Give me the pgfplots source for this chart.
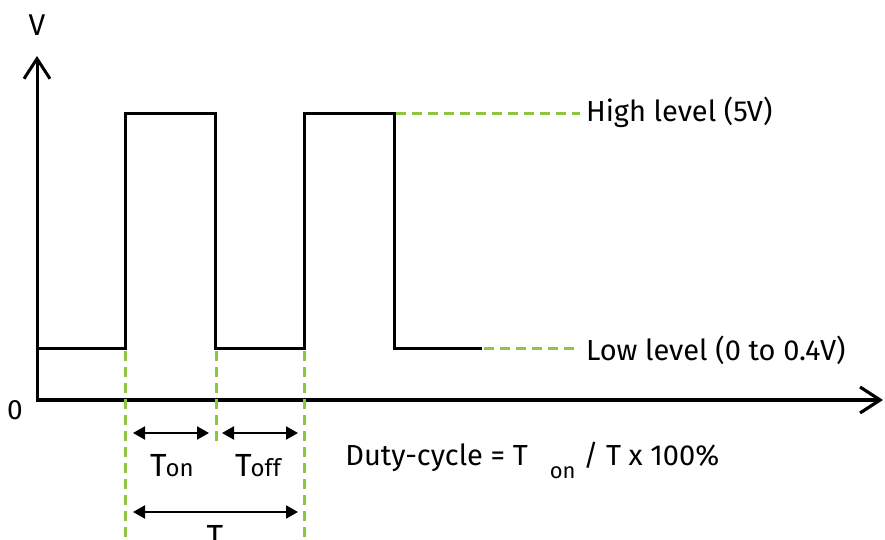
\documentclass[border=0pt]{standalone}
\usepackage{pgfplots}
\pgfplotsset{compat=1.18}
\usetikzlibrary{arrows.meta}
\usepackage{fontspec}
\setmainfont{Fira Sans}
\definecolor{grn}{RGB}{141,198,63}
\begin{document}
\begin{tikzpicture}
\begin{axis}[
  scale only axis, width=442.5pt, height=270pt,
  xmin=0, xmax=885, ymin=0, ymax=540,
  hide axis, clip=false,
  every axis plot/.append style={line join=miter},
]
% axes
\addplot[black, line width=1.5pt, -{Straight Barb[length=10pt,width=13pt]}] coordinates {(37,139) (37,484)};
\addplot[black, line width=1.6pt, -{Straight Barb[length=10pt,width=13pt]}] coordinates {(36,140) (883,140)};
% green dashed guides
\addplot[grn, line width=1.5pt, dash pattern=on 5pt off 3pt] coordinates {(396,426) (580,426)};
\addplot[grn, line width=1.5pt, dash pattern=on 5pt off 3pt] coordinates {(484,191) (580,191)};
\addplot[grn, line width=1.5pt, dash pattern=on 5pt off 3pt] coordinates {(125,189) (125,0)};
\addplot[grn, line width=1.5pt, dash pattern=on 5pt off 3pt] coordinates {(216,189) (216,95)};
\addplot[grn, line width=1.5pt, dash pattern=on 5pt off 3pt] coordinates {(304,189) (304,0)};
% signal
\addplot[black, line width=1.5pt] coordinates {
(37,191) (125,191) (125,426) (215,426) (215,191) (304,191) (304,426) (394,426) (394,191) (482,191)};
% period arrows
\addplot[black, line width=1pt, {Triangle[length=6pt,width=6.5pt]}-{Triangle[length=6pt,width=6.5pt]}] coordinates {(133,107) (209,107)};
\addplot[black, line width=1pt, {Triangle[length=6pt,width=6.5pt]}-{Triangle[length=6pt,width=6.5pt]}] coordinates {(222,107) (298,107)};
\addplot[black, line width=1pt, {Triangle[length=6pt,width=6.5pt]}-{Triangle[length=6pt,width=6.5pt]}] coordinates {(133,28) (298,28)};
% labels
\node[anchor=center, font=\fontsize{15}{17}\selectfont] at (axis cs:37,515) {V};
\node[anchor=center, font=\fontsize{14}{16}\selectfont] at (axis cs:15,130) {0};
\node[anchor=west, font=\fontsize{14.5}{17}\selectfont] at (axis cs:579,428) {High level (5V)};
\node[anchor=west, font=\fontsize{14.5}{17}\selectfont] at (axis cs:579,190) {Low level (0 to 0.4V)};
\node[anchor=base, font=\fontsize{16}{18}\selectfont] at (axis cs:172,63) {T\kern-0.5pt{\fontsize{12}{14}\selectfont on}};
\node[anchor=base, font=\fontsize{16}{18}\selectfont] at (axis cs:258,63) {T\kern-0.5pt{\fontsize{12}{14}\selectfont off}};
\node[anchor=base, font=\fontsize{16}{18}\selectfont] at (axis cs:215,-8) {T};
\node[anchor=base west, font=\fontsize{14.5}{17}\selectfont, inner sep=0pt] at (axis cs:345,74) {Duty-cycle = T\hspace{11pt}\raisebox{-6.5pt}{\fontsize{11}{13}\selectfont on} / T x 100\%};
\end{axis}
\pgfresetboundingbox
\path[use as bounding box] (current axis.south west) rectangle (current axis.north east);
\end{tikzpicture}
\end{document}
